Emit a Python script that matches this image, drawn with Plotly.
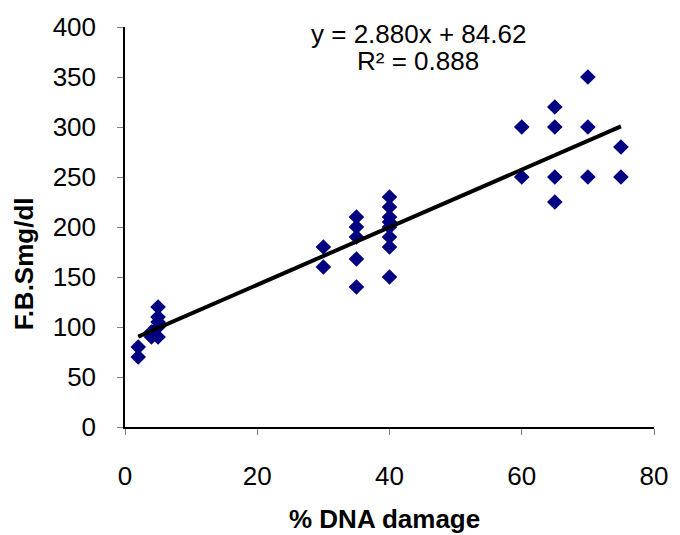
import plotly.graph_objects as go

dna_damage = [2, 2, 4, 4, 5, 5, 5, 5, 5,
              30, 30, 35, 35, 35, 35, 35,
              40, 40, 40, 40, 40, 40, 40, 40,
              60, 60, 65, 65, 65, 65, 70, 70, 70, 75, 75]
fbs = [80, 70, 95, 90, 120, 110, 105, 100, 90,
       180, 160, 210, 200, 190, 168, 140,
       230, 220, 210, 205, 200, 190, 180, 150,
       300, 250, 320, 300, 250, 225, 350, 300, 250, 280, 250]

slope = 2.880
intercept = 84.62
r_squared = 0.888

x_ticks = [0, 20, 40, 60, 80]
y_ticks = [0, 50, 100, 150, 200, 250, 300, 350, 400]

x_line = [min(dna_damage), max(dna_damage)]
y_line = [slope * v + intercept for v in x_line]

W, H = 680, 535
L, R, T, B = 125, 17, 23, 108
pw, ph = W - L - R, H - T - B


def px(xp):
    return (xp - L) / pw


def py(yp):
    return (H - B - yp) / ph


fig = go.Figure()
fig.add_trace(go.Scatter(
    x=dna_damage, y=fbs, mode="markers",
    marker=dict(symbol="diamond", size=12, color="#000080", line=dict(width=0)),
    showlegend=False,
))
fig.add_trace(go.Scatter(
    x=x_line, y=y_line, mode="lines",
    line=dict(color="black", width=4),
    showlegend=False,
))

font_family = "Liberation Sans, Arial, sans-serif"
fs = 26

fig.update_layout(
    width=W, height=H,
    margin=dict(l=L, r=R, t=T, b=B),
    paper_bgcolor="white", plot_bgcolor="white",
    font=dict(family=font_family, size=fs, color="black"),
    xaxis=dict(
        range=[0, 80], tickvals=x_ticks, ticktext=[str(v) for v in x_ticks],
        showline=True, linecolor="black", linewidth=1.5,
        ticks="outside", ticklen=6, tickcolor="#808080", tickwidth=1,
        showgrid=False, zeroline=False,
        tickfont=dict(size=fs),
        ticklabelstandoff=19,
    ),
    yaxis=dict(
        range=[0, 400], tickvals=y_ticks, ticktext=[str(v) for v in y_ticks],
        showline=True, linecolor="black", linewidth=1.5,
        ticks="outside", ticklen=6, tickcolor="#808080", tickwidth=1,
        showgrid=False, zeroline=False,
        tickfont=dict(size=fs),
        ticklabelstandoff=16,
    ),
    annotations=[
        dict(text=f"y = {slope:.3f}x + {intercept:.2f}", x=px(423), y=py(30),
             xref="paper", yref="paper", showarrow=False,
             xanchor="center", yanchor="middle"),
        dict(text=f"R² = {r_squared:.3f}", x=px(423), y=py(57),
             xref="paper", yref="paper", showarrow=False,
             xanchor="center", yanchor="middle"),
        dict(text="<b>% DNA damage</b>", x=px(389), y=py(520),
             xref="paper", yref="paper", showarrow=False,
             xanchor="center", yanchor="middle"),
        dict(text="<b>F.B.Smg/dl</b>", x=px(22), y=py(262), textangle=-90,
             xref="paper", yref="paper", showarrow=False,
             xanchor="center", yanchor="middle"),
    ],
)

fig.write_html("out.html", config={"displayModeBar": False},
               post_script="document.body.style.margin='0';")
